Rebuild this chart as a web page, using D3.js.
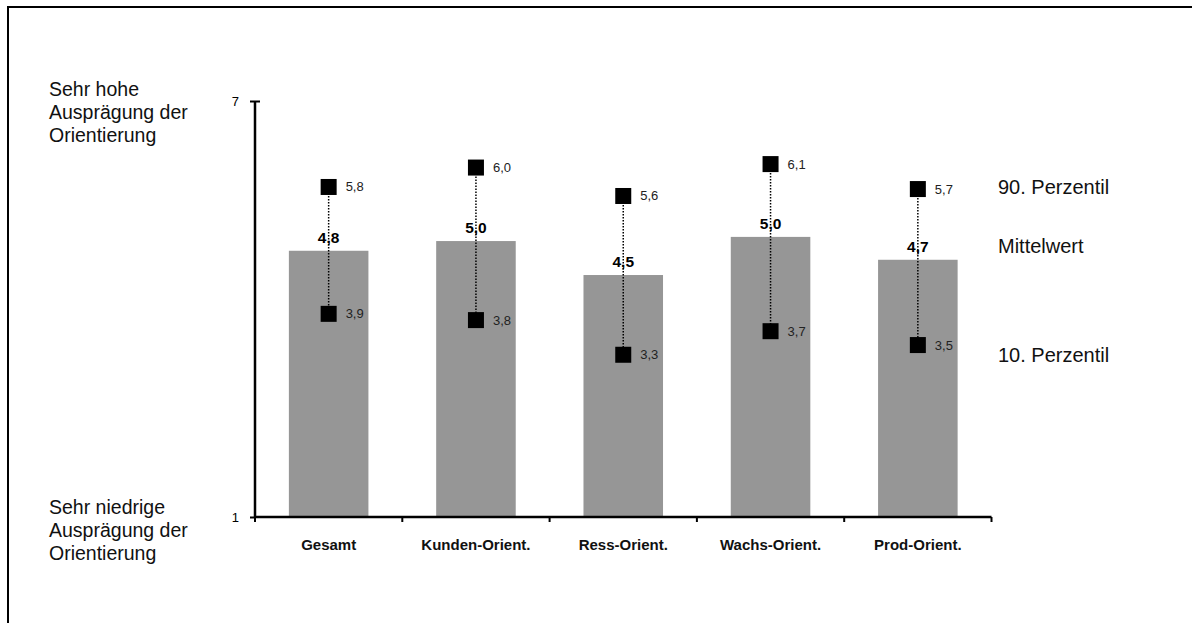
<!DOCTYPE html>
<html><head><meta charset="utf-8">
<script src="https://cdn.jsdelivr.net/npm/d3@7"></script>
<style>body{margin:0;background:#fff;} svg{display:block;font-family:"Liberation Sans",Arial,sans-serif;}</style>
</head><body>
<script>
const categories = ["Gesamt","Kunden-Orient.","Ress-Orient.","Wachs-Orient.","Prod-Orient."];
const meanValues = [4.84, 4.98, 4.49, 5.04, 4.71];
const p90Values = [5.76, 6.04, 5.63, 6.09, 5.73];
const p10Values = [3.93, 3.84, 3.34, 3.68, 3.48];
const yTicks = [1, 7];
const topLabel = ["Sehr hohe","Ausprägung der","Orientierung"];
const bottomLabel = ["Sehr niedrige","Ausprägung der","Orientierung"];
const legendLabels = ["90. Perzentil","Mittelwert","10. Perzentil"];
const legendAt = [5.76, 4.91, 3.34];

const W = 1192, H = 623;
const svg = d3.select("body").append("svg").attr("width", W).attr("height", H);
svg.append("rect").attr("x", 8).attr("y", 7).attr("width", W + 20).attr("height", H + 20)
  .attr("fill", "none").attr("stroke", "#000").attr("stroke-width", 2);

const x = d3.scaleBand().domain(categories).range([255, 991.5]).paddingInner(0.46).paddingOuter(0.23);
const y = d3.scaleLinear().domain([1, 7]).range([517, 101]);
const fmt = v => d3.format(".1f")(v).replace(".", ",");

// bars
svg.selectAll("rect.bar").data(categories).enter().append("rect")
  .attr("x", d => x(d)).attr("width", x.bandwidth())
  .attr("y", (d,i) => y(meanValues[i])).attr("height", (d,i) => y(1) - y(meanValues[i]))
  .attr("fill", "#969696");

// axes
const yAxis = d3.axisLeft(y).tickValues(yTicks).tickSize(5).tickPadding(11).tickFormat(d3.format("d"));
const gy = svg.append("g").attr("transform", "translate(255,0)").call(yAxis);
gy.select(".domain").attr("stroke-width", 2.5).attr("d", `M0,${y(7)}V${y(1)}`);
gy.selectAll(".tick line").attr("stroke-width", 2).attr("x2", -5).attr("x1", (d) => d === 7 ? 5 : 0);
gy.selectAll(".tick text").attr("font-size", 13).attr("fill", "#000").attr("font-family", "Liberation Sans, Arial, sans-serif");

svg.append("line").attr("x1", 254).attr("x2", x.range()[1]).attr("y1", y(1)).attr("y2", y(1))
  .attr("stroke", "#000").attr("stroke-width", 2.5);
const bounds = d3.range(categories.length + 1).map(i => x.range()[0] + i * x.step());
svg.selectAll("line.xt").data(bounds).enter().append("line")
  .attr("x1", d => d).attr("x2", d => d).attr("y1", y(1)).attr("y2", y(1) + 5)
  .attr("stroke", "#000").attr("stroke-width", 2);

svg.selectAll("text.cat").data(categories).enter().append("text")
  .attr("x", d => x(d) + x.bandwidth() / 2).attr("y", 550)
  .attr("text-anchor", "middle").attr("font-size", 15).attr("font-weight", "bold").attr("fill", "#111").text(d => d);

// dotted lines
const cx = d => x(d) + x.bandwidth() / 2;
svg.selectAll("line.rng").data(categories).enter().append("line")
  .attr("x1", cx).attr("x2", cx)
  .attr("y1", (d,i) => y(p90Values[i])).attr("y2", (d,i) => y(p10Values[i]))
  .attr("stroke", "#000").attr("stroke-width", 1.5).attr("stroke-dasharray", "1.5,1.5");

// mean labels
svg.selectAll("text.mean").data(categories).enter().append("text")
  .attr("x", cx).attr("y", (d,i) => y(meanValues[i]) - 8)
  .attr("text-anchor", "middle").attr("font-size", 15.5).attr("font-weight", "bold")
  .text((d,i) => fmt(meanValues[i]));

// markers
[p90Values, p10Values].forEach(arr => {
  svg.selectAll(null).data(categories).enter().append("rect")
    .attr("x", d => cx(d) - 8).attr("y", (d,i) => y(arr[i]) - 8)
    .attr("width", 16).attr("height", 16).attr("fill", "#000");
  svg.selectAll(null).data(categories).enter().append("text")
    .attr("x", d => cx(d) + 17).attr("y", (d,i) => y(arr[i]) + 4.5)
    .attr("font-size", 13).attr("fill", "#222").text((d,i) => fmt(arr[i]));
});

// side labels
function lines(arr, x0, y0) {
  const t = svg.append("text").attr("x", x0).attr("y", y0).attr("font-size", 19.5).attr("fill", "#111");
  arr.forEach((s, i) => t.append("tspan").attr("x", x0).attr("dy", i ? 23 : 0).text(s));
}
lines(topLabel, 49, 96);
lines(bottomLabel, 49, 514);
svg.selectAll("text.leg").data(legendLabels).enter().append("text")
  .attr("x", 998).attr("y", (d,i) => y(legendAt[i]) + 7).attr("font-size", 20).attr("fill", "#111").text(d => d);
</script>
</body></html>
